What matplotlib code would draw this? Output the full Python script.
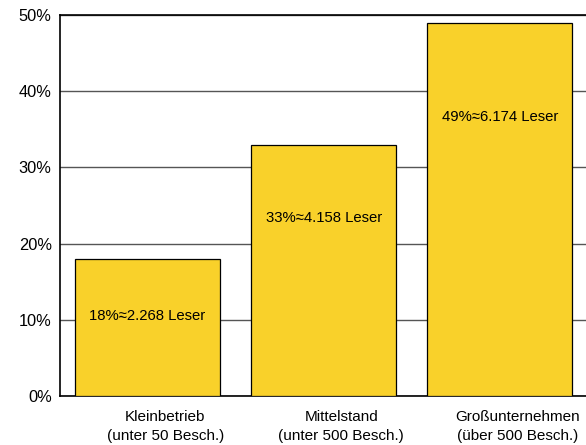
import matplotlib.pyplot as plt

plt.rcParams['font.family'] = ['Liberation Sans', 'DejaVu Sans']

# data
categories = ["Kleinbetrieb\n(unter 50 Besch.)",
              "Mittelstand\n(unter 500 Besch.)",
              "Großunternehmen\n(über 500 Besch.)"]
shares = [18, 33, 49]
readers = ["2.268", "4.158", "6.174"]
label_y = [10.5, 23.4, 36.6]

fig = plt.figure(figsize=(5.86, 4.45), dpi=100)
ax = fig.add_axes([60 / 586, 49 / 445, 526 / 586, 381 / 445])

x = list(range(len(shares)))
ax.bar(x, shares, width=0.824, color="#F9D12A", edgecolor="black",
       linewidth=0.9, zorder=3)

for xi, s, r, ly in zip(x, shares, readers, label_y):
    ax.text(xi, ly, f"{s}%≈{r} Leser", ha="center", va="center",
            fontsize=10.7, color="black", zorder=4)

ax.set_xlim(-0.497, 2.489)
ax.set_ylim(0, 50)
ax.set_yticks(range(0, 51, 10))
ax.set_yticklabels([f"{v}%" for v in range(0, 51, 10)], fontsize=11.8)
ax.set_xticks([xi + 0.1 for xi in x])
ax.set_xticklabels(categories, fontsize=11, linespacing=1.45)
ax.tick_params(axis="both", length=0)
ax.tick_params(axis="y", pad=6)
ax.tick_params(axis="x", pad=10)

ax.yaxis.grid(True, color="#555555", linewidth=1.0, zorder=0)
ax.set_axisbelow(True)
ax.spines["right"].set_visible(False)
for side in ["left", "bottom", "top"]:
    ax.spines[side].set_linewidth(1.2)
    ax.spines[side].set_color("black")

plt.savefig("out.png", dpi=100)
